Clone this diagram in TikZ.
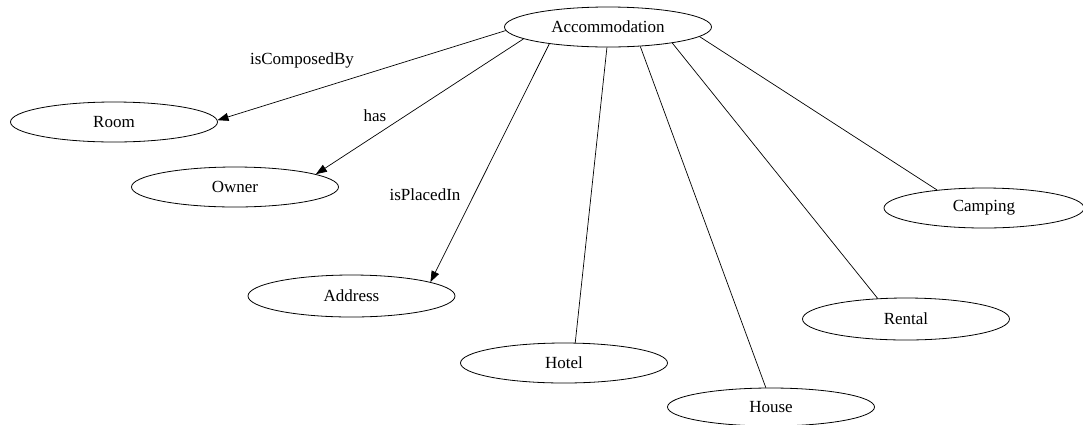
\documentclass[tikz,border=0pt]{standalone}
\usepackage{fontspec}
\setmainfont{Liberation Serif}
\usetikzlibrary{shapes.geometric,arrows.meta}
\begin{document}
\begin{tikzpicture}[x=1pt,y=-1pt,
  cls/.style={ellipse,draw,line width=0.8pt,minimum width=207pt,minimum height=40pt,inner sep=0pt,font=\fontsize{17}{20}\selectfont},
  rel/.style={line width=0.7pt},
  arr/.style={rel,-{Triangle[length=11pt,width=8pt]}},
  lbl/.style={font=\fontsize{17}{20}\selectfont,inner sep=0pt}]
\useasboundingbox (0,0) rectangle (1083,424);
\node[cls] (acc) at (608,27) {Accommodation};
\node[cls] (room) at (114,122) {Room};
\node[cls] (owner) at (235,187) {Owner};
\node[cls,minimum height=42pt] (address) at (351.5,296) {Address};
\node[cls] (hotel) at (564,363) {Hotel};
\node[cls,minimum height=38pt] (house) at (771,407) {House};
\node[cls,minimum height=42pt] (rental) at (906,319) {Rental};
\node[cls,minimum width=200pt] (camping) at (984,208) {Camping};
\draw[arr] (acc.182) -- (room.1);
\draw[arr] (acc.188) -- (owner.9);
\draw[arr] (acc.196) -- (address.10);
\draw[rel] (acc.267) -- (hotel.61);
\draw[rel] (acc.329) -- (house.105);
\draw[rel] (acc.346) -- (rental.144);
\draw[rel] (acc.354) -- (camping.159);
\node[lbl] (l1) at (302,60) {isComposedBy};
\node[lbl] (l2) at (375,116) {has};
\node[lbl] (l3) at (425,195) {isPlacedIn};
\end{tikzpicture}
\end{document}
